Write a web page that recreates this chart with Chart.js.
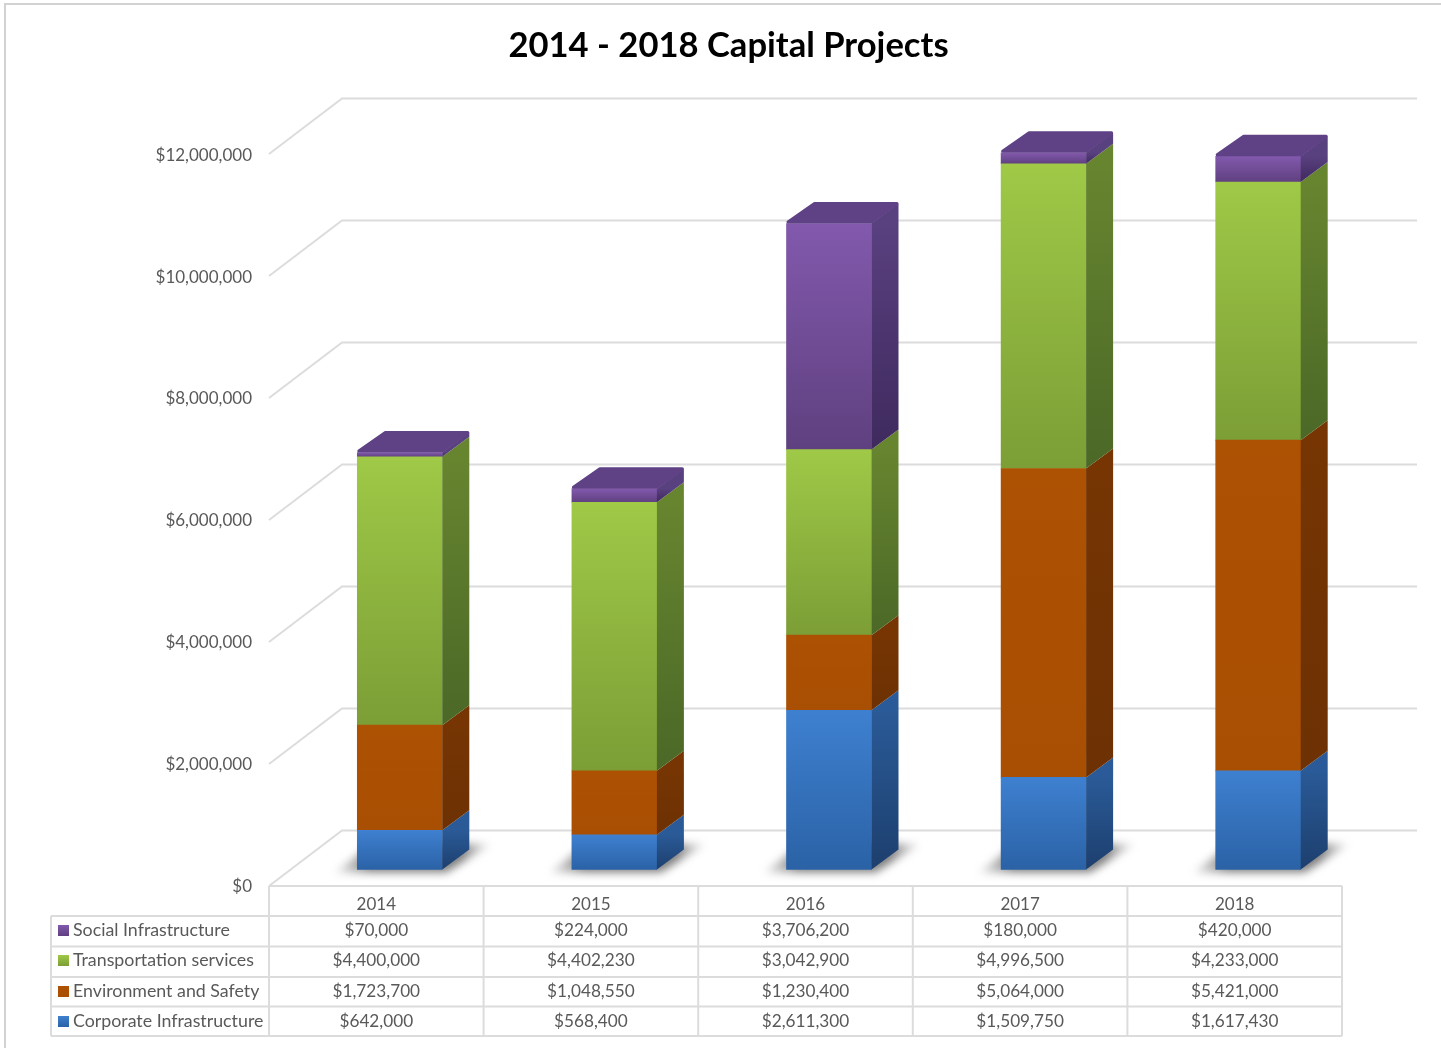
<!DOCTYPE html>
<html lang="en">
<head>
    <meta charset="UTF-8">
    <title>2014 - 2018 Capital Projects</title>
    <script src="https://cdn.jsdelivr.net/npm/chart.js"></script>
    <style>
        html, body { margin: 0; padding: 0; background: #fff; overflow: hidden; }
        canvas { display: block; }
    </style>
</head>
<body>
    <canvas id="capitalChart" width="1441" height="1048"></canvas>

    <script>
        const years = ["2014", "2015", "2016", "2017", "2018"];
        const corporate = [642000, 568400, 2611300, 1509750, 1617430];
        const environment = [1723700, 1048550, 1230400, 5064000, 5421000];
        const transportation = [4400000, 4402230, 3042900, 4996500, 4233000];
        const social = [70000, 224000, 3706200, 180000, 420000];

        const FONT = "Lato, 'Noto Sans', sans-serif";
        const TEXT = "#595959";
        const GRID = "#dcdcdc";

        // front top, front bottom, side top, side bottom
        const blue = ["#3e80d0", "#2b62a6", "#2a5a97", "#1d3f6e"];
        const orange = ["#ad5103", "#a94f03", "#763503", "#6d3103"];
        const green = ["#9fc947", "#7c9e36", "#67852f", "#4b6827"];
        const purple = ["#8259ad", "#5f407f", "#59407f", "#3f2a5e"];

        const seriesList = [
            { label: "Corporate Infrastructure", data: corporate, colors: blue },
            { label: "Environment and Safety", data: environment, colors: orange },
            { label: "Transportation services", data: transportation, colors: green },
            { label: "Social Infrastructure", data: social, colors: purple }
        ];

        // offsets of the 3D look, bars sit between the front plane and the back wall
        const BAR_DX = 23.5, BAR_DY = -16.5;
        const DEPTH_X = 27, DEPTH_Y = -20;
        const WALL_DX = 73, WALL_DY = -55.5, WALL_RIGHT = 1417;
        const ROW_LINES = [886, 916, 946.5, 977, 1006.5, 1036];
        const ROW_TEXT = [930, 960, 991, 1021];
        const TABLE_LEFT = 51;

        function money(v) {
            return "$" + Number(v).toLocaleString("en-US");
        }

        function vGradient(ctx, top, bottom, c1, c2) {
            const g = ctx.createLinearGradient(0, top, 0, bottom);
            g.addColorStop(0, c1);
            g.addColorStop(1, c2);
            return g;
        }

        function frontFill(context) {
            const chart = context.chart;
            const colors = seriesList[context.datasetIndex].colors;
            if (!chart.chartArea || context.dataIndex === undefined) return colors[0];
            let below = 0;
            for (let i = 0; i < context.datasetIndex; i++) below += seriesList[i].data[context.dataIndex];
            const value = seriesList[context.datasetIndex].data[context.dataIndex];
            const y = chart.scales.y;
            return vGradient(chart.ctx, y.getPixelForValue(below + value), y.getPixelForValue(below), colors[0], colors[1]);
        }

        const bars3d = {
            id: "bars3d",
            beforeDraw(chart) {
                const ctx = chart.ctx;
                ctx.save();
                ctx.strokeStyle = "#d2d2d2";
                ctx.lineWidth = 2;
                ctx.beginPath();
                ctx.moveTo(5, 1048);
                ctx.lineTo(5, 4);
                ctx.lineTo(1441, 4);
                ctx.stroke();
                ctx.restore();
            },
            beforeDatasetsDraw(chart) {
                const ctx = chart.ctx, y = chart.scales.y, area = chart.chartArea;
                ctx.save();
                // side and back wall lines
                ctx.strokeStyle = GRID;
                ctx.lineWidth = 2;
                y.ticks.forEach(t => {
                    const py = y.getPixelForValue(t.value);
                    ctx.beginPath();
                    ctx.moveTo(area.left, py);
                    ctx.lineTo(area.left + WALL_DX, py + WALL_DY);
                    ctx.lineTo(WALL_RIGHT, py + WALL_DY);
                    ctx.stroke();
                });
                // floor shadows
                ctx.filter = "blur(4px)";
                chart.getDatasetMeta(0).data.forEach(bar => {
                    const l = bar.x + BAR_DX - bar.width / 2, r = l + bar.width, b = bar.base + BAR_DY;
                    const g = ctx.createLinearGradient(l - 22, 0, r + 50, 0);
                    g.addColorStop(0, "rgba(130,130,130,0.2)");
                    g.addColorStop(0.22, "rgba(95,95,95,0.8)");
                    g.addColorStop(0.8, "rgba(95,95,95,0.8)");
                    g.addColorStop(1, "rgba(150,150,150,0.15)");
                    ctx.fillStyle = g;
                    ctx.beginPath();
                    ctx.moveTo(l - 22, b + 3);
                    ctx.lineTo(r + 4, b + 3);
                    ctx.lineTo(r + 48, b - 25);
                    ctx.lineTo(r + 24, b - 26);
                    ctx.lineTo(l + 15, b - 26);
                    ctx.closePath();
                    ctx.fill();
                });
                ctx.restore();
                // the library's bars get drawn shifted back from the front plane
                ctx.save();
                ctx.translate(BAR_DX, BAR_DY);
            },
            afterDatasetsDraw(chart) {
                const ctx = chart.ctx;
                seriesList.forEach((s, i) => {
                    chart.getDatasetMeta(i).data.forEach(bar => {
                        const r = bar.x + bar.width / 2, l = bar.x - bar.width / 2;
                        ctx.fillStyle = vGradient(ctx, bar.y, bar.base, s.colors[2], s.colors[3]);
                        ctx.beginPath();
                        ctx.moveTo(r, bar.y);
                        ctx.lineTo(r + DEPTH_X, bar.y + DEPTH_Y);
                        ctx.lineTo(r + DEPTH_X, bar.base + DEPTH_Y);
                        ctx.lineTo(r, bar.base);
                        ctx.closePath();
                        ctx.fill();
                        if (i === seriesList.length - 1) {
                            ctx.fillStyle = "#5f4285";
                            ctx.strokeStyle = "#5f4285";
                            ctx.lineWidth = 3;
                            ctx.lineJoin = "round";
                            ctx.beginPath();
                            ctx.moveTo(l + 1.5, bar.y - 1.5);
                            ctx.lineTo(l + DEPTH_X + 1, bar.y + DEPTH_Y);
                            ctx.lineTo(r + DEPTH_X - 1.5, bar.y + DEPTH_Y);
                            ctx.lineTo(r, bar.y - 1.5);
                            ctx.closePath();
                            ctx.fill();
                            ctx.stroke();
                        }
                    });
                });
                ctx.restore();
            },
            afterDraw(chart) {
                const ctx = chart.ctx, x = chart.scales.x, area = chart.chartArea;
                const colEdges = years.map((_, i) => x.getPixelForValue(i) - x.width / years.length / 2);
                colEdges.push(area.right);
                const rows = seriesList.slice().reverse();
                ctx.save();
                ctx.strokeStyle = GRID;
                ctx.lineWidth = 2;
                ROW_LINES.forEach((ly, i) => {
                    ctx.beginPath();
                    ctx.moveTo(i === 0 ? area.left : TABLE_LEFT, ly);
                    ctx.lineTo(area.right, ly);
                    ctx.stroke();
                });
                colEdges.forEach(cx => {
                    ctx.beginPath();
                    ctx.moveTo(cx, ROW_LINES[0]);
                    ctx.lineTo(cx, ROW_LINES[5]);
                    ctx.stroke();
                });
                ctx.beginPath();
                ctx.moveTo(TABLE_LEFT, ROW_LINES[1]);
                ctx.lineTo(TABLE_LEFT, ROW_LINES[5]);
                ctx.stroke();

                ctx.fillStyle = TEXT;
                ctx.textBaseline = "middle";
                rows.forEach((s, r) => {
                    const cy = ROW_TEXT[r];
                    ctx.fillStyle = vGradient(ctx, cy - 5, cy + 6, s.colors[0], s.colors[1]);
                    ctx.fillRect(58, cy - 5, 11, 11);
                    ctx.fillStyle = TEXT;
                    ctx.font = "17.8px " + FONT;
                    ctx.textAlign = "left";
                    ctx.fillText(s.label, 73, cy);
                    ctx.font = "17.2px " + FONT;
                    ctx.textAlign = "center";
                    s.data.forEach((v, i) => ctx.fillText(money(v), x.getPixelForValue(i), cy));
                });
                ctx.restore();
            }
        };

        new Chart(document.getElementById("capitalChart"), {
            type: "bar",
            plugins: [bars3d],
            data: {
                labels: years,
                datasets: seriesList.map(s => ({
                    label: s.label,
                    data: s.data,
                    backgroundColor: frontFill,
                    borderWidth: 0,
                    barThickness: 85,
                    clip: false
                }))
            },
            options: {
                responsive: false,
                animation: false,
                layout: { padding: { left: 115, right: 99, top: 0, bottom: 0 } },
                plugins: {
                    legend: { display: false },
                    tooltip: { enabled: false },
                    title: {
                        display: true,
                        text: "2014 - 2018 Capital Projects",
                        color: "#000",
                        font: { family: FONT, size: 34.6, weight: "bold", lineHeight: 1.2 },
                        padding: { top: 25, bottom: 87.5 }
                    }
                },
                scales: {
                    x: {
                        stacked: true,
                        afterFit(scale) { scale.height = 162; },
                        grid: { display: false },
                        border: { display: false },
                        ticks: { color: TEXT, font: { family: FONT, size: 17 }, padding: 0, maxRotation: 0 }
                    },
                    y: {
                        stacked: true,
                        min: 0,
                        max: 12000000,
                        afterFit(scale) { scale.width = 154; },
                        grid: { display: false },
                        border: { display: false },
                        ticks: {
                            stepSize: 2000000,
                            color: TEXT,
                            font: { family: FONT, size: 17 },
                            padding: 9,
                            labelOffset: 1,
                            callback: v => money(v)
                        }
                    }
                }
            }
        });
    </script>
</body>
</html>
